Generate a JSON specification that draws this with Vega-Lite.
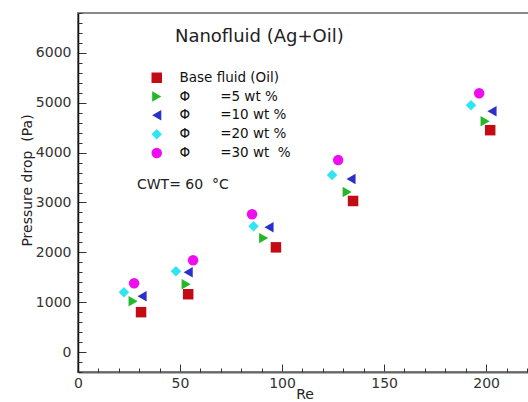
{
  "$schema": "https://vega.github.io/schema/vega-lite/v6.json",
  "width": 453,
  "height": 359,
  "autosize": "none",
  "padding": {"left": 78, "top": 13, "right": 0, "bottom": 30},
  "background": "white",
  "config": {
    "font": "DejaVu Sans",
    "view": {"stroke": "#8a8a8a", "strokeWidth": 2}
  },
  "datasets": {
    "pts": [
      {"series": "Base fluid (Oil)", "Re": 30.9, "dp": 800},
      {"series": "Φ =5 wt %", "Re": 27, "dp": 1020},
      {"series": "Φ =10 wt %", "Re": 31.4, "dp": 1120},
      {"series": "Φ =20 wt %", "Re": 22.5, "dp": 1200},
      {"series": "Φ =30 wt %", "Re": 27.5, "dp": 1380},
      {"series": "Base fluid (Oil)", "Re": 54, "dp": 1160},
      {"series": "Φ =5 wt %", "Re": 53, "dp": 1360},
      {"series": "Φ =10 wt %", "Re": 54, "dp": 1600},
      {"series": "Φ =20 wt %", "Re": 48, "dp": 1620},
      {"series": "Φ =30 wt %", "Re": 56.4, "dp": 1840},
      {"series": "Base fluid (Oil)", "Re": 97, "dp": 2100},
      {"series": "Φ =5 wt %", "Re": 91, "dp": 2285},
      {"series": "Φ =10 wt %", "Re": 93.6, "dp": 2505},
      {"series": "Φ =20 wt %", "Re": 86, "dp": 2525},
      {"series": "Φ =30 wt %", "Re": 85.3, "dp": 2765},
      {"series": "Base fluid (Oil)", "Re": 134.8, "dp": 3030},
      {"series": "Φ =5 wt %", "Re": 131.9, "dp": 3210},
      {"series": "Φ =10 wt %", "Re": 133.8, "dp": 3470},
      {"series": "Φ =20 wt %", "Re": 124.5, "dp": 3550},
      {"series": "Φ =30 wt %", "Re": 127.5, "dp": 3850},
      {"series": "Base fluid (Oil)", "Re": 202, "dp": 4450},
      {"series": "Φ =5 wt %", "Re": 199.5, "dp": 4630},
      {"series": "Φ =10 wt %", "Re": 202.9, "dp": 4830},
      {"series": "Φ =20 wt %", "Re": 192.6, "dp": 4950},
      {"series": "Φ =30 wt %", "Re": 196.6, "dp": 5190}
    ],
    "notes": [
      {"Re": 47.5, "dp": 6318, "note": "Nanofluid (Ag+Oil)", "kind": "title"},
      {"Re": 28.9, "dp": 3350, "note": "CWT= 60\u00a0\u00a0°C", "kind": "cwt"}
    ]
  },
  "resolve": {"axis": {"x": "independent", "y": "independent"}},
  "layer": [
    {
      "data": {"name": "pts"},
      "mark": {"type": "point", "filled": true, "opacity": 1, "size": 110},
      "encoding": {
        "x": {
          "field": "Re", "type": "quantitative",
          "scale": {"domain": [0, 222], "nice": false, "zero": false},
          "axis": {
            "orient": "bottom",
            "title": "Re", "titleFontSize": 14, "titleFontWeight": "normal", "titleColor": "#222",
            "titlePadding": -3,
            "values": [0, 50, 100, 150, 200],
            "labelFontSize": 14, "labelColor": "#333", "labelPadding": 12,
            "tickSize": -8, "tickColor": "#333", "domainColor": "#666", "domainWidth": 2, "grid": false,
            "labelFlush": false, "labelOverlap": false
          }
        },
        "y": {
          "field": "dp", "type": "quantitative",
          "scale": {"domain": [-400, 6800], "nice": false, "zero": false},
          "axis": {
            "orient": "left",
            "title": "Pressure drop\u00a0\u00a0(Pa)", "titleFontSize": 14, "titleFontWeight": "normal", "titleColor": "#222",
            "titleX": -51, "titleY": 167, "titleAngle": -90, "titleAlign": "center", "titleBaseline": "middle",
            "values": [0, 1000, 2000, 3000, 4000, 5000, 6000],
            "format": "d",
            "labelFontSize": 14, "labelColor": "#333", "labelPadding": 15,
            "tickSize": -8, "tickColor": "#333", "domainColor": "#111", "domainWidth": 1.5, "grid": false,
            "labelOverlap": false, "labelFlush": false
          }
        },
        "shape": {
          "field": "series", "type": "nominal",
          "scale": {
            "domain": ["Base fluid (Oil)", "Φ =5 wt %", "Φ =10 wt %", "Φ =20 wt %", "Φ =30 wt %"],
            "range": ["square", "triangle-right", "triangle-left", "diamond", "circle"]
          },
          "legend": {
            "orient": "none", "legendX": 72, "legendY": 58, "title": null,
            "labelFontSize": 13.5, "labelColor": "#111", "labelOffset": 16,
            "rowPadding": 3.8, "symbolSize": 110, "padding": 0,
            "labelExpr": "datum.label == 'Base fluid (Oil)' ? '\u00a0\u00a0\u00a0\u00a0\u00a0\u00a0\u00a0Base fluid (Oil)' : datum.label == 'Φ =30 wt %' ? 'Φ\u00a0\u00a0\u00a0\u00a0\u00a0\u00a0\u00a0=30 wt\u00a0\u00a0%' : replace(datum.label, ' =', '\u00a0\u00a0\u00a0\u00a0\u00a0\u00a0\u00a0=')"
          }
        },
        "color": {
          "field": "series", "type": "nominal",
          "scale": {
            "domain": ["Base fluid (Oil)", "Φ =5 wt %", "Φ =10 wt %", "Φ =20 wt %", "Φ =30 wt %"],
            "range": ["#c40a14", "#22b82a", "#2c30c8", "#30e4f4", "#f00cf0"]
          }
        }
      }
    },
    {
      "data": {"name": "notes"},
      "mark": {"type": "text", "align": "left", "baseline": "middle", "color": "#222"},
      "encoding": {
        "x": {
          "field": "Re", "type": "quantitative",
          "axis": {
            "orient": "bottom", "title": null, "labels": false, "domain": false, "grid": false,
            "values": [10, 20, 30, 40, 60, 70, 80, 90, 110, 120, 130, 140, 160, 170, 180, 190, 210, 220],
            "tickSize": -4, "tickColor": "#333"
          }
        },
        "y": {
          "field": "dp", "type": "quantitative",
          "axis": {
            "orient": "left", "title": null, "labels": false, "domain": false, "grid": false,
            "values": [-400, -200, 200, 400, 600, 800, 1200, 1400, 1600, 1800, 2200, 2400, 2600, 2800, 3200, 3400, 3600, 3800, 4200, 4400, 4600, 4800, 5200, 5400, 5600, 5800, 6200, 6400, 6600, 6800],
            "tickSize": -4, "tickColor": "#333"
          }
        },
        "text": {"field": "note"},
        "size": {"condition": {"test": "datum.kind == 'title'", "value": 18}, "value": 14}
      }
    }
  ]
}
